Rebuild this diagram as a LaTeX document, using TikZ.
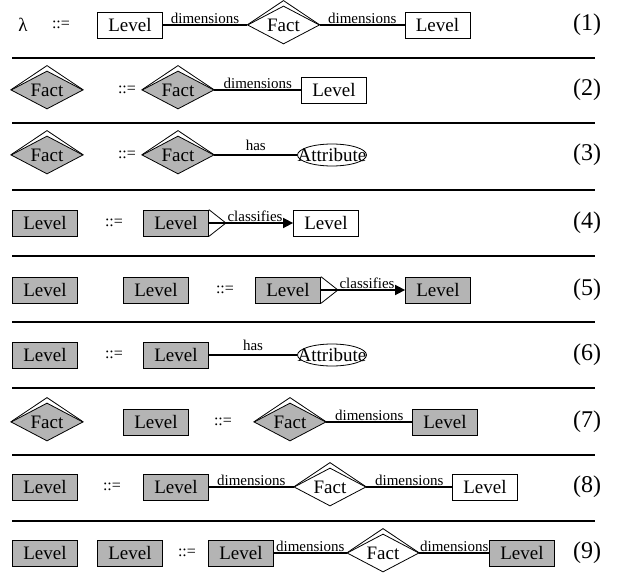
\documentclass[tikz,border=0pt]{standalone}
\usepackage{fontspec}
\setmainfont{Liberation Serif}
\usepackage{tikz}
\usetikzlibrary{shapes.geometric,arrows.meta}

\definecolor{shade}{RGB}{180,180,180}

\begin{document}
\begin{tikzpicture}
        [x=1pt,y=-1pt,line join=miter,
         every node/.style={font=\fontsize{19}{21}\selectfont,inner sep=0pt},
         Level/.style={draw,line width=.8pt,rectangle,minimum width=65pt,minimum height=26pt},
         Fact/.style={draw,line width=.8pt,diamond,aspect=1.9,minimum width=72pt,minimum height=38pt},
         Attribute/.style={draw,line width=.8pt,ellipse,inner xsep=-10pt,inner ysep=-2pt,
                           minimum width=69pt,minimum height=22pt},
         grey/.style={fill=shade},
         eq/.style={font=\fontsize{16}{18}\selectfont},
         num/.style={font=\fontsize{24}{26}\selectfont}]
        \useasboundingbox (0,0) rectangle (620,572);

        % (1)
        \node (lambda) at (23,25) {λ};
        \node[eq] (eqOne) at (61,25) {::=};
        \node[Level] (LevelOneA) at (130,25) {Level};
        \node[Fact] (FactOne) at (283.5,25) {Fact};
        \node[Level] (LevelOneB) at (437.5,25) {Level};
        \node[num] (numOne) at (587,25) {(1)};
        % (2)
        \node[Fact,grey] (FactTwoA) at (47,90) {Fact};
        \node[eq] (eqTwo) at (127,90) {::=};
        \node[Fact,grey] (FactTwoB) at (178,90) {Fact};
        \node[Level] (LevelTwo) at (334,90) {Level};
        \node[num] (numTwo) at (587,90) {(2)};
        % (3)
        \node[Fact,grey] (FactThreeA) at (47,155) {Fact};
        \node[eq] (eqThree) at (127,155) {::=};
        \node[Fact,grey] (FactThreeB) at (178,155) {Fact};
        \node[Attribute] (AttrThree) at (332,155) {Attribute};
        \node[num] (numThree) at (587,155) {(3)};
        % (4)
        \node[Level,grey] (LevelFourA) at (45,223) {Level};
        \node[eq] (eqFour) at (114,223) {::=};
        \node[Level,grey] (LevelFourB) at (176,223) {Level};
        \node[Level] (LevelFourC) at (326,223) {Level};
        \node[num] (numFour) at (587,223) {(4)};
        % (5)
        \node[Level,grey] (LevelFiveA) at (45,290) {Level};
        \node[Level,grey] (LevelFiveB) at (156,290) {Level};
        \node[eq] (eqFive) at (225,290) {::=};
        \node[Level,grey] (LevelFiveC) at (288,290) {Level};
        \node[Level,grey] (LevelFiveD) at (438,290) {Level};
        \node[num] (numFive) at (587,290) {(5)};
        % (6)
        \node[Level,grey] (LevelSixA) at (45,355) {Level};
        \node[eq] (eqSix) at (114,355) {::=};
        \node[Level,grey] (LevelSixB) at (176,355) {Level};
        \node[Attribute] (AttrSix) at (332,355) {Attribute};
        \node[num] (numSix) at (587,355) {(6)};
        % (7)
        \node[Fact,grey] (FactSevenA) at (47,422) {Fact};
        \node[Level,grey] (LevelSevenA) at (156,422) {Level};
        \node[eq] (eqSeven) at (223,422) {::=};
        \node[Fact,grey] (FactSevenB) at (290,422) {Fact};
        \node[Level,grey] (LevelSevenB) at (445,422) {Level};
        \node[num] (numSeven) at (587,422) {(7)};
        % (8)
        \node[Level,grey] (LevelEightA) at (45,487) {Level};
        \node[eq] (eqEight) at (112,487) {::=};
        \node[Level,grey] (LevelEightB) at (176,487) {Level};
        \node[Fact] (FactEight) at (330,487) {Fact};
        \node[Level] (LevelEightC) at (485,487) {Level};
        \node[num] (numEight) at (587,487) {(8)};
        % (9)
        \node[Level,grey] (LevelNineA) at (45,553) {Level};
        \node[Level,grey] (LevelNineB) at (130,553) {Level};
        \node[eq] (eqNine) at (187,553) {::=};
        \node[Level,grey] (LevelNineC) at (241,553) {Level};
        \node[Fact] (FactNine) at (383,553) {Fact};
        \node[Level,grey] (LevelNineD) at (522,553) {Level};
        \node[num] (numNine) at (587,553) {(9)};

        \tikzset{LabelStyle/.style = {above,
                                  inner sep      = 1pt,
                                  font           = \fontsize{15}{17}\selectfont}}

        % rules between the productions
        \foreach \y in {58,123,190,256,322,388,455,521}
            \draw[line width=2.4pt] (12,\y) -- (595,\y);

        % upper rim of the fact diamonds
        \foreach \f in {FactOne,FactTwoA,FactTwoB,FactThreeA,FactThreeB,FactSevenA,FactSevenB,FactEight,FactNine}
            \draw[line width=.8pt] (\f.west) -- ([yshift=5pt]\f.north) -- (\f.east);

        % fork at the classifying level
        \foreach \l in {LevelFourB,LevelFiveC}
            \draw[line width=.8pt] (\l.north east) -- ([xshift=17pt]\l.east) -- (\l.south east);

        \foreach \from/\to in {LevelOneA/FactOne,FactOne/LevelOneB,FactTwoB/LevelTwo,
                               FactSevenB/LevelSevenB,LevelEightB/FactEight,FactEight/LevelEightC,
                               LevelNineC/FactNine,FactNine/LevelNineD}
            \draw[line width=1.6pt] (\from) -- node[LabelStyle]{dimensions} (\to);
        \foreach \from/\to in {FactThreeB/AttrThree,LevelSixB/AttrSix}
            \draw[line width=1.6pt] (\from) -- node[LabelStyle,yshift=3pt]{has} (\to);
        \foreach \from/\to in {LevelFourB/LevelFourC,LevelFiveC/LevelFiveD}
            \draw[line width=1.6pt,-{Triangle[length=10pt,width=10pt]}] (\from) -- node[LabelStyle,xshift=4pt]{classifies} (\to);
    \end{tikzpicture}
\end{document}
